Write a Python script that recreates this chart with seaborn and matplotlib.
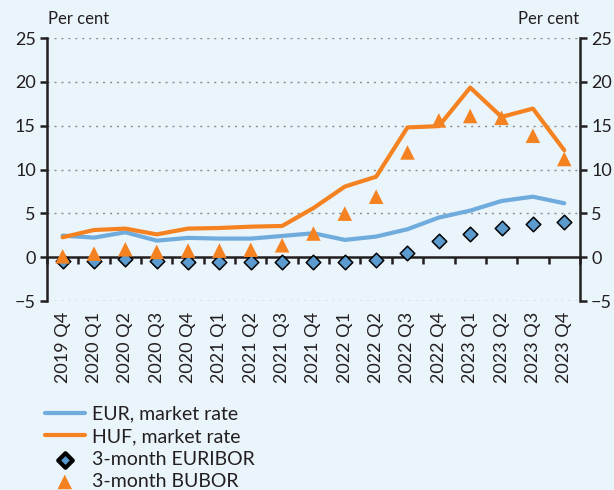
import numpy as np
import pandas as pd
import matplotlib
matplotlib.use("Agg")
import matplotlib.pyplot as plt
import seaborn as sns

# --- Data ---
quarters = ["2019 Q4", "2020 Q1", "2020 Q2", "2020 Q3", "2020 Q4",
            "2021 Q1", "2021 Q2", "2021 Q3", "2021 Q4",
            "2022 Q1", "2022 Q2", "2022 Q3", "2022 Q4",
            "2023 Q1", "2023 Q2", "2023 Q3", "2023 Q4"]
eur_market = [2.46, 2.23, 2.84, 1.89, 2.2, 2.12, 2.12, 2.42, 2.73,
              1.97, 2.35, 3.19, 4.52, 5.31, 6.41, 6.9, 6.15]
huf_market = [2.27, 3.1, 3.26, 2.6, 3.26, 3.33, 3.48, 3.56, 5.6,
              8.05, 9.18, 14.8, 14.95, 19.35, 16.0, 16.95, 12.2]
euribor = [-0.39, -0.4, -0.22, -0.47, -0.52, -0.54, -0.54, -0.55, -0.58,
           -0.57, -0.3, 0.5, 1.82, 2.66, 3.34, 3.83, 3.98]
bubor = [0.1, 0.4, 0.9, 0.6, 0.75, 0.75, 0.85, 1.36, 2.7,
         4.97, 6.9, 11.95, 15.6, 16.1, 15.9, 13.85, 11.2]

y_ticks = [-5, 0, 5, 10, 15, 20, 25]

BG = "#eaf4fb"
BLUE = "#6fabdc"
ORANGE = "#f58220"
DARK = "#231f20"

df = pd.DataFrame({"quarter": quarters, "pos": np.arange(len(quarters)),
                   "eur": eur_market, "huf": huf_market,
                   "euribor": euribor, "bubor": bubor})

sns.set_theme(style="white")
plt.rcParams["font.family"] = ["Lato", "DejaVu Sans"]
plt.rcParams["text.color"] = DARK

fig = plt.figure(figsize=(6.14, 4.9), dpi=100, facecolor=BG)
ax = fig.add_axes([0.0765, 0.3857, 0.868, 0.5367], facecolor=BG)

# gridlines
for v in y_ticks:
    if v != 0:
        ax.axhline(v, color="#8c8c8c", lw=1.0, ls=(0, (1.5, 3.5)), zorder=0)

sns.lineplot(data=df, x="pos", y="eur", ax=ax, color=BLUE, lw=3,
             label="EUR, market rate", zorder=2)
sns.lineplot(data=df, x="pos", y="huf", ax=ax, color=ORANGE, lw=3,
             label="HUF, market rate", zorder=3)
sns.scatterplot(data=df, x="pos", y="euribor", ax=ax, marker="D", s=55,
                color="#5b9bd0", edgecolor="black", linewidth=1.1,
                label="3-month EURIBOR", zorder=4)
sns.scatterplot(data=df, x="pos", y="bubor", ax=ax, marker="^", s=110,
                color=ORANGE, edgecolor="none",
                label="3-month BUBOR", zorder=5)

ax.set_xlim(-0.5, len(quarters) - 0.5)
ax.set_ylim(-5, 25)
ax.set_yticks(y_ticks)
ax.set_yticklabels(["\u22125" if v < 0 else str(v) for v in y_ticks])
ax.set_xlabel("")
ax.set_ylabel("")

# x axis spine at zero with ticks at category boundaries
ax.spines["bottom"].set_position(("data", 0))
ax.spines["top"].set_visible(False)
for s in ["bottom", "left", "right"]:
    ax.spines[s].set_color(DARK)
    ax.spines[s].set_linewidth(1.8)
ax.set_xticks(np.arange(len(quarters) + 1) - 0.5)
ax.tick_params(axis="x", bottom=True, direction="out", length=5, width=1.8,
               color=DARK, labelbottom=False)
ax.tick_params(axis="y", left=True, right=True, labelleft=True, labelright=True,
               direction="out", length=5, width=1.8, color=DARK,
               labelsize=13, labelcolor=DARK, pad=3)

# category labels at the bottom
sec = ax.secondary_xaxis(0)
sec.set_xticks(np.arange(len(quarters)))
sec.set_xticklabels(quarters, rotation=90, fontsize=13, color=DARK)
sec.tick_params(length=0, pad=8)
sec.spines["bottom"].set_visible(False)

fig.text(0.078, 0.962, "Per cent", fontsize=12, ha="left", va="center", color=DARK)
fig.text(0.943, 0.962, "Per cent", fontsize=12, ha="right", va="center", color=DARK)

leg = ax.legend(loc="upper left", bbox_to_anchor=(0.073, 0.172),
                bbox_transform=fig.transFigure, frameon=False, fontsize=14,
                handlelength=2.05, handletextpad=0.4, labelspacing=0.28,
                borderaxespad=0, borderpad=0)
for h in leg.legend_handles:
    try:
        h.set_linewidth(3)
    except Exception:
        pass

fig.savefig("out.png", dpi=100, facecolor=BG)
